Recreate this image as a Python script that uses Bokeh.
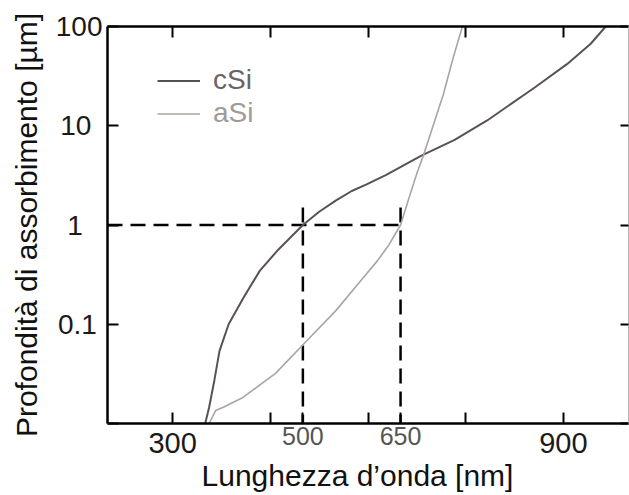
from bokeh.plotting import figure
from bokeh.models import LinearAxis, LogAxis, FixedTicker, Legend, LegendItem, Range1d
from bokeh.embed import file_html
from bokeh.resources import INLINE

# ---------------- data ----------------
csi_wl = [350, 356, 364, 372, 386, 409, 434, 461, 487, 500, 525, 551, 575,
          597, 628, 682, 733, 783, 856, 906, 942, 965]
csi_depth = [0.01, 0.0145, 0.027, 0.054, 0.10, 0.186, 0.347, 0.553, 0.82,
             1.0, 1.36, 1.77, 2.2, 2.55, 3.2, 5.0, 7.2, 11.3, 24.3, 42, 67,
             100]

asi_wl = [356, 366, 377, 408, 458, 502, 551, 593, 615, 632, 650, 665, 675,
          684, 700, 716, 731, 745]
asi_depth = [0.01, 0.0135, 0.0145, 0.0183, 0.032, 0.064, 0.138, 0.296,
             0.44, 0.63, 1.0, 2.07, 3.3, 4.8, 10.0, 21, 49, 100]

series_names = ["cSi", "aSi"]

x_ticks = [300, 450, 600, 750, 900]
x_labeled = {300: "300", 900: "900"}
y_ticks = [0.01, 0.1, 1, 10, 100]
# labels are centred in the original; trailing thin/en spaces emulate that
y_tick_labels = {0.01: "", 0.1: "0.1\u2009", 1: "1\u2002\u2009",
                 10: "10\u2009\u2009", 100: "100"}

ref_depth = 1.0                 # dashed reference level (µm)
ref_wavelengths = [500, 650]    # dashed reference wavelengths (nm)
ref_top = 1.5                   # dashed verticals reach a little above 1 µm

x_title = "Lunghezza d’onda [nm]\u2002\u2009"
y_title = "Profondità di assorbimento [µm]"

FONT = "Liberation Sans"

# ---------------- figure ----------------
p = figure(width=629, height=495, x_range=Range1d(200, 1000),
           y_range=Range1d(0.01, 100), y_axis_type="log",
           output_backend="svg", toolbar_location=None,
           min_border_left=107, min_border_right=1, min_border_top=26,
           min_border_bottom=72)
p.grid.visible = False
p.outline_line_color = None
p.background_fill_color = "white"
p.border_fill_color = "white"


def style_axis(ax, ticks, labels=None, size="28px", color="#1a1a1a",
               tick_in=11, line_color="black", line_width=2.5):
    ax.ticker = FixedTicker(ticks=ticks)
    ax.axis_line_color = line_color
    ax.axis_line_width = line_width
    ax.major_tick_in = tick_in
    ax.major_tick_out = 0
    ax.major_tick_line_width = 2
    ax.major_tick_line_color = "black" if tick_in else None
    ax.minor_tick_line_color = None
    labels = labels or {}
    ax.major_label_overrides = {t: labels.get(t, "") for t in ticks}
    if labels:
        ax.major_label_text_font_size = size
        ax.major_label_text_font = FONT
        ax.major_label_text_color = color
    else:
        ax.major_label_text_font_size = "1px"
        ax.major_label_standoff = 0


# bottom axis 1 (next to the frame): ticks + grey 500 / 650 labels
xb = p.xaxis[0]
style_axis(xb, sorted(x_ticks + ref_wavelengths),
           {w: str(w) for w in ref_wavelengths}, size="25px",
           color="#555555")
xb.major_label_standoff = 3

# bottom axis 2: 300 / 900 labels and the title
xb2 = LinearAxis()
style_axis(xb2, x_ticks, x_labeled, size="29px", tick_in=0,
           line_color=None)
xb2.major_label_standoff = -15
xb2.axis_label = x_title
xb2.axis_label_text_font = FONT
xb2.axis_label_text_font_size = "30px"
xb2.axis_label_text_font_style = "normal"
xb2.axis_label_text_color = "#111111"
xb2.axis_label_standoff = 3
p.add_layout(xb2, "below")

# left axis
yl = p.yaxis[0]
style_axis(yl, y_ticks, y_tick_labels, size="28px")
yl.major_label_standoff = 5
yl.axis_label = y_title
yl.axis_label_text_font = FONT
yl.axis_label_text_font_size = "30px"
yl.axis_label_text_font_style = "normal"
yl.axis_label_text_color = "#111111"
yl.axis_label_standoff = 10

# top and right axes: ticks only (right frame edge is faint in the original)
xt = LinearAxis()
style_axis(xt, x_ticks)
p.add_layout(xt, "above")
yr = LogAxis()
style_axis(yr, y_ticks, tick_in=8, line_color="#b5b5b5", line_width=1)
p.add_layout(yr, "right")

# ---------------- reference dashed lines ----------------
p.line([200, max(ref_wavelengths) + 8], [ref_depth, ref_depth],
       line_color="black", line_width=2.5, line_dash="15 8")
for wl in ref_wavelengths:
    p.line([wl, wl], [ref_top, 0.01], line_color="black", line_width=2.5,
           line_dash="15 8")

# ---------------- curves ----------------
r_csi = p.line(csi_wl, csi_depth, line_color="#5a5252", line_width=2)
r_asi = p.line(asi_wl, asi_depth, line_color="#aaa4a2", line_width=1.6)

# ---------------- legend (two single-item legends for two text colours) ----
for item, r, col, yloc in [(series_names[0], r_csi, "#6a6464", 327),
                           (series_names[1], r_asi, "#a09a98", 294)]:
    lg = Legend(items=[LegendItem(label=item, renderers=[r])],
                location=(50, yloc), padding=0, margin=0, spacing=0,
                glyph_width=43, glyph_height=31, label_height=31,
                label_standoff=13, label_text_font=FONT,
                label_text_font_size="28px", label_text_color=col,
                border_line_color=None, background_fill_alpha=0)
    p.add_layout(lg)

open("out.html", "w").write(file_html(p, INLINE))
